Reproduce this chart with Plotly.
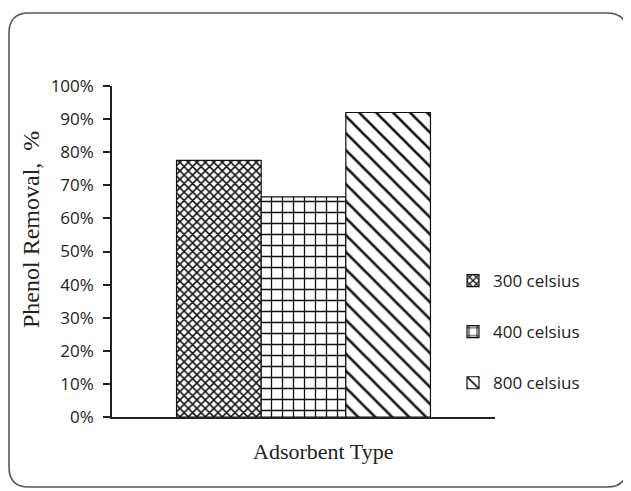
import plotly.graph_objects as go

categories = ["Adsorbent Type"]
series_names = ["300 celsius", "400 celsius", "800 celsius"]
removal_300 = [0.775]
removal_400 = [0.665]
removal_800 = [0.92]
y_ticks = [0, 0.1, 0.2, 0.3, 0.4, 0.5, 0.6, 0.7, 0.8, 0.9, 1.0]

# the page body has an 8px margin, so the figure is drawn 8px in from the window edge
OFF = 8
W, H = 631 - OFF, 491 - OFF
L, T = 112 - OFF, 86 - OFF
PR, PB = 495 - OFF, 417 - OFF
R, B = W - PR, H - PB
PW, PH = PR - L, PB - T

def px_x(px):
    return (px - OFF - L) / PW

def px_y(py):
    return (PB - (py - OFF)) / PH

patterns = [
    dict(shape="x", size=6, solidity=0.45, fgcolor="#111", bgcolor="white", fillmode="replace"),
    dict(shape="+", size=11, solidity=0.22, fgcolor="#111", bgcolor="white", fillmode="replace"),
    dict(shape="\\", size=12, solidity=0.22, fgcolor="#111", bgcolor="white", fillmode="replace"),
]
values = [removal_300, removal_400, removal_800]

fig = go.Figure()
for name, vals, pat in zip(series_names, values, patterns):
    fig.add_trace(go.Bar(
        x=categories, y=vals, name=name, legendgroup=name,
        marker=dict(color="white", pattern=pat, line=dict(color="#111", width=1.2)),
    ))

# rounded outer border
x0, y0, x1, y1, r = 9, 13, 627, 487, 20
def P(x, y):
    return f"{px_x(x):.5f},{px_y(y):.5f}"
path = (f"M {P(x0 + r, y0)} L {P(x1 - r, y0)} Q {P(x1, y0)} {P(x1, y0 + r)} "
        f"L {P(x1, y1 - r)} Q {P(x1, y1)} {P(x1 - r, y1)} L {P(x0 + r, y1)} "
        f"Q {P(x0, y1)} {P(x0, y1 - r)} L {P(x0, y0 + r)} Q {P(x0, y0)} {P(x0 + r, y0)} Z")
fig.add_shape(type="path", path=path, xref="paper", yref="paper",
              line=dict(color="#555", width=1.6), layer="below")

fig.update_layout(
    width=W, height=H,
    margin=dict(l=L, r=R, t=T, b=B, autoexpand=False),
    paper_bgcolor="white", plot_bgcolor="white",
    barmode="group", bargap=0.337, bargroupgap=0,
    font=dict(family="Open Sans", size=17, color="#222"),
    showlegend=True,
    legend=dict(x=px_x(453), y=px_y(263), xanchor="left", yanchor="top",
                font=dict(family="Open Sans", size=17, color="#222"),
                tracegroupgap=26, traceorder="grouped", bgcolor="rgba(0,0,0,0)"),
    xaxis=dict(showticklabels=False, ticks="", showline=True, linecolor="#222",
               linewidth=1.5, showgrid=False, zeroline=False),
    yaxis=dict(range=[0, 1], tickvals=y_ticks, tickformat=".0%", ticks="outside",
               ticklen=7, tickwidth=1.5, tickcolor="#222", showline=True,
               linecolor="#222", linewidth=1.5, showgrid=False, zeroline=False,
               ticklabelstandoff=6,
               tickfont=dict(family="Open Sans", size=17, color="#222")),
    annotations=[
        dict(text="Adsorbent Type", x=px_x(323), y=px_y(451), xref="paper", yref="paper",
             showarrow=False, xanchor="center", yanchor="middle",
             font=dict(family="Liberation Serif", size=22, color="#222")),
        dict(text="Phenol Removal,\u00a0\u00a0%", x=px_x(31), y=px_y(230), xref="paper", yref="paper",
             showarrow=False, xanchor="center", yanchor="middle", textangle=-90,
             font=dict(family="Liberation Serif", size=24, color="#222")),
    ],
)

fig.write_html("out.html")
